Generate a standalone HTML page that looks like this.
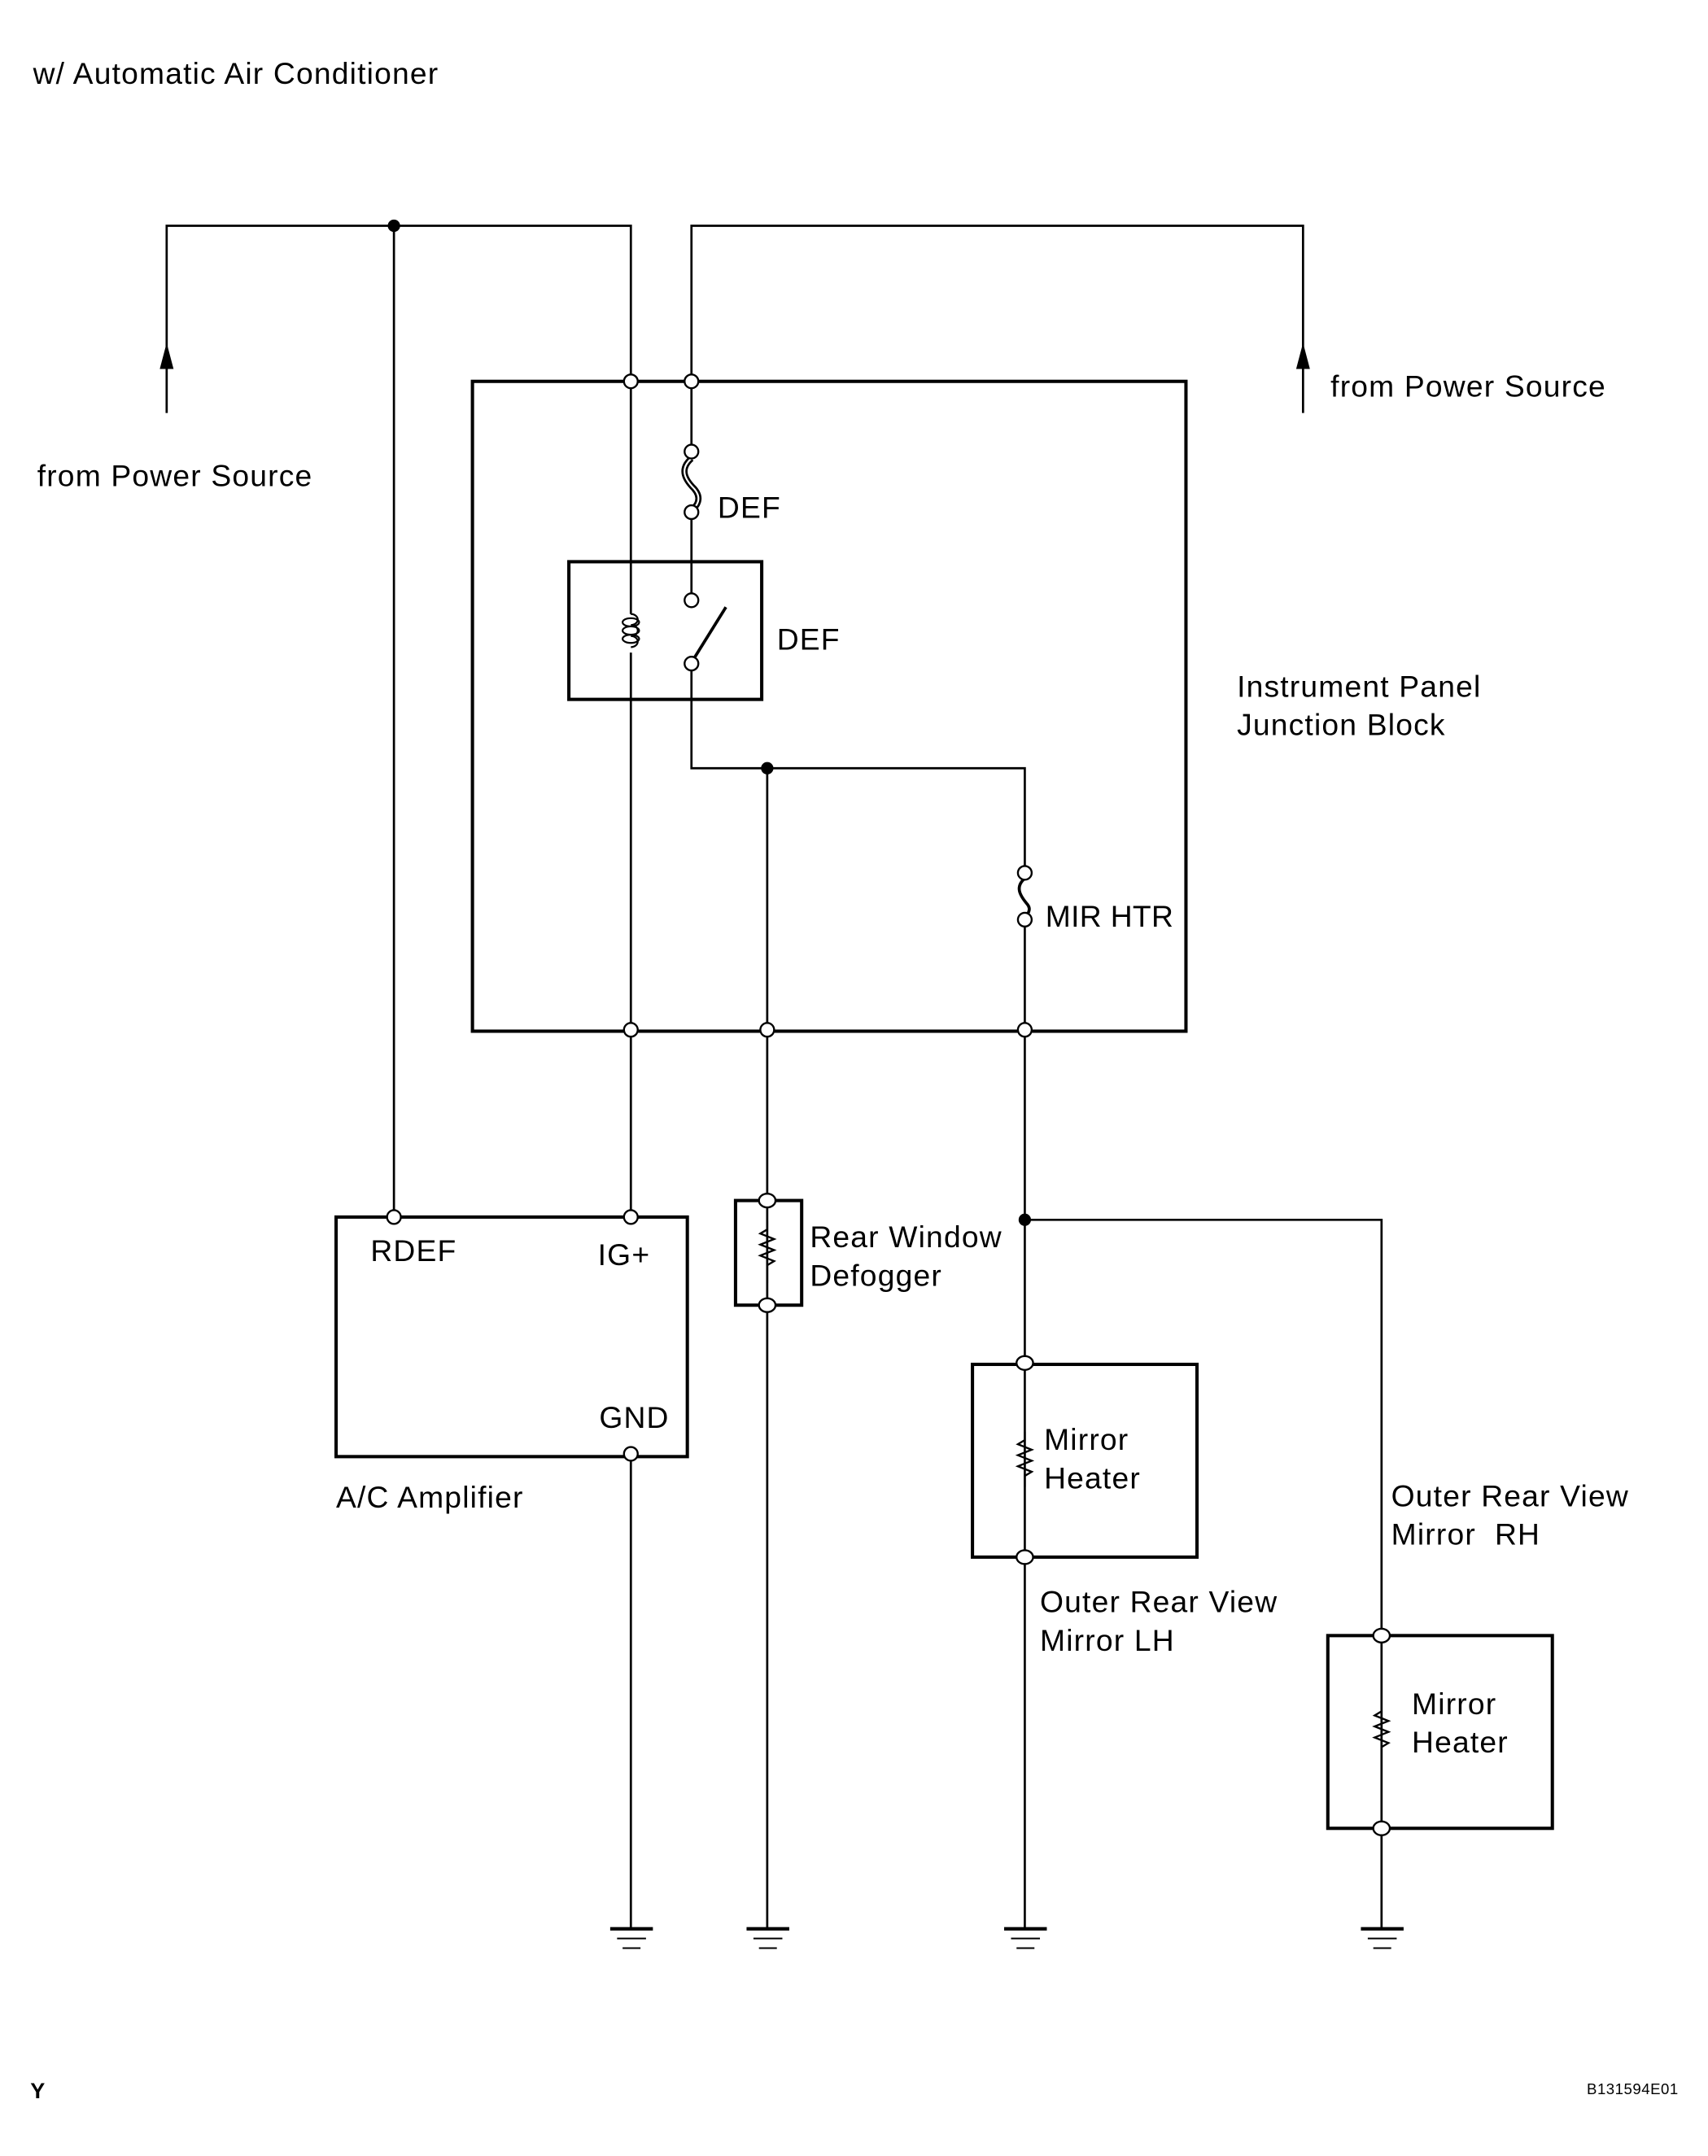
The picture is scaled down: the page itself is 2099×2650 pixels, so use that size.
<!DOCTYPE html>
<html><head><meta charset="utf-8"><style>
html,body{margin:0;padding:0;background:#fff;}
svg{display:block;}
text{font-family:"Liberation Sans",Arial,sans-serif;font-size:22px;letter-spacing:0.7px;fill:#000;}
</style></head><body>
<svg width="2099" height="2650" viewBox="0 0 1240 1566" preserveAspectRatio="none" xmlns="http://www.w3.org/2000/svg">
<g fill="none" stroke="#000" stroke-width="1.6">
<polyline points="121,300 121,164 458,164 458,884"/>
<line x1="286" y1="164" x2="286" y2="884"/>
<polyline points="946,300 946,164 502,164 502,328"/>
<line x1="502" y1="372" x2="502" y2="436"/>
<polyline points="502,482 502,558 744,558 744,634"/>
<line x1="744" y1="668" x2="744" y2="1400"/>
<line x1="557" y1="558" x2="557" y2="1400"/>
<line x1="458" y1="1056" x2="458" y2="1400"/>
<polyline points="744,886 1003,886 1003,1400"/>
<line x1="504" y1="478" x2="527" y2="441" stroke-width="2.2"/>
</g>
<g fill="none" stroke="#000" stroke-width="2.4">
<rect x="343" y="277" width="518" height="472"/>
<rect x="413" y="408" width="140" height="100"/>
<rect x="244" y="884" width="255" height="174"/>
<rect x="534" y="872" width="48" height="76"/>
<rect x="706" y="991" width="163" height="140"/>
<rect x="964" y="1188" width="163" height="140"/>
</g>
<g fill="#fff" stroke="#000" stroke-width="1.3">
<rect x="455" y="446" width="6" height="28" stroke="none"/>
<path d="M458,446 a5,4 0 0 1 0,8 M458,454 a5,4 0 0 1 0,8 M458,462 a5,4 0 0 1 0,8" fill="none"/>
<ellipse cx="458" cy="452" rx="6" ry="3" fill="none"/>
<ellipse cx="458" cy="458" rx="6" ry="3" fill="none"/>
<ellipse cx="458" cy="464" rx="6" ry="3" fill="none"/>
</g>
<path d="M502,333 C494,340 496,347 504,355 C510,362 506,368 502,370" fill="none" stroke="#000" stroke-width="4.5"/>
<path d="M502,333 C494,340 496,347 504,355 C510,362 506,368 502,370" fill="none" stroke="#fff" stroke-width="1.3"/>
<path d="M744,638 C737,644 740,650 746,657 C749,661 746,664 744,666" fill="none" stroke="#000" stroke-width="2.2"/>
<g fill="none" stroke="#000" stroke-width="1.4">
<polyline points="557,887 557,893 552,896 562,900 552,904 562,908 552,912 562,916 557,919 557,932"/>
<polyline points="744,1040 744,1046 739,1049 749,1053 739,1057 749,1061 739,1065 749,1069 744,1072 744,1080"/>
<polyline points="1003,1237 1003,1243 998,1246 1008,1250 998,1254 1008,1258 998,1262 1008,1266 1003,1269 1003,1277"/>
</g>
<polygon points="121,249 116,268 126,268" fill="#000"/>
<polygon points="946,249 941,268 951,268" fill="#000"/>
<g fill="#000"><circle cx="286" cy="164" r="4.5"/><circle cx="557" cy="558" r="4.5"/><circle cx="744" cy="886" r="4.5"/></g>
<g fill="#fff" stroke="#000" stroke-width="1.4">
<circle cx="458" cy="277" r="5"/><circle cx="502" cy="277" r="5"/>
<circle cx="502" cy="328" r="5"/><circle cx="502" cy="372" r="5"/>
<circle cx="502" cy="436" r="5"/><circle cx="502" cy="482" r="5"/>
<circle cx="744" cy="634" r="5"/><circle cx="744" cy="668" r="5"/>
<circle cx="458" cy="748" r="5"/><circle cx="557" cy="748" r="5"/><circle cx="744" cy="748" r="5"/>
<circle cx="286" cy="884" r="5"/><circle cx="458" cy="884" r="5"/><circle cx="458" cy="1056" r="5"/>
<ellipse cx="557" cy="872" rx="6" ry="5"/><ellipse cx="557" cy="948" rx="6" ry="5"/>
<ellipse cx="744" cy="990" rx="6" ry="5"/><ellipse cx="744" cy="1131" rx="6" ry="5"/>
<ellipse cx="1003" cy="1188" rx="6" ry="5"/><ellipse cx="1003" cy="1328" rx="6" ry="5"/>
</g>
<g stroke="#000">
<g stroke-width="2.5"><line x1="443" y1="1401" x2="474" y2="1401"/><line x1="542" y1="1401" x2="573" y2="1401"/><line x1="729" y1="1401" x2="760" y2="1401"/><line x1="988" y1="1401" x2="1019" y2="1401"/></g>
<g stroke-width="1.2"><line x1="448" y1="1408" x2="469" y2="1408"/><line x1="547" y1="1408" x2="568" y2="1408"/><line x1="734" y1="1408" x2="755" y2="1408"/><line x1="993" y1="1408" x2="1014" y2="1408"/>
<line x1="452" y1="1415" x2="465" y2="1415"/><line x1="551" y1="1415" x2="564" y2="1415"/><line x1="738" y1="1415" x2="751" y2="1415"/><line x1="997" y1="1415" x2="1010" y2="1415"/></g>
</g>
<text x="24" y="61">w/ Automatic Air Conditioner</text>
<text x="27" y="353">from Power Source</text>
<text x="966" y="288">from Power Source</text>
<text x="521" y="376">DEF</text>
<text x="564" y="472">DEF</text>
<text x="898" y="506">Instrument Panel</text>
<text x="898" y="534">Junction Block</text>
<text x="759" y="673" style="letter-spacing:0.2px">MIR HTR</text>
<text x="269" y="916">RDEF</text>
<text x="434" y="919">IG+</text>
<text x="435" y="1037">GND</text>
<text x="244" y="1095">A/C Amplifier</text>
<text x="588" y="906">Rear Window</text>
<text x="588" y="934">Defogger</text>
<text x="758" y="1053">Mirror</text>
<text x="758" y="1081">Heater</text>
<text x="755" y="1171">Outer Rear View</text>
<text x="755" y="1199">Mirror LH</text>
<text x="1010" y="1094">Outer Rear View</text>
<text x="1010" y="1122" xml:space="preserve">Mirror  RH</text>
<text x="1025" y="1245">Mirror</text>
<text x="1025" y="1273">Heater</text>
<text x="22" y="1524" style="font-size:16px;font-weight:bold;letter-spacing:0">Y</text>
<text x="1152" y="1521" style="font-size:11px;letter-spacing:0.3px">B131594E01</text>
</svg>
</body></html>
